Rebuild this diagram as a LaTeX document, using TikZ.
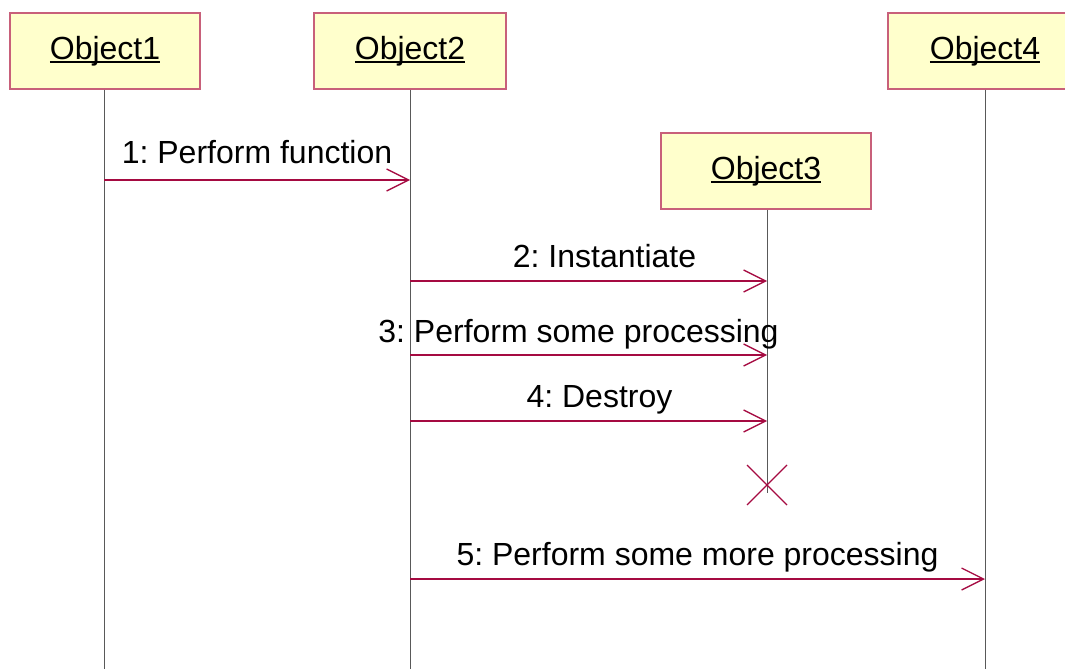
\documentclass[tikz,border=0pt]{standalone}
\usepackage{fontspec}
\setmainfont{Liberation Sans}
\frenchspacing
\usetikzlibrary{arrows.meta}
\definecolor{boxfill}{RGB}{255,255,204}
\definecolor{boxline}{RGB}{200,96,122}
\definecolor{msgline}{RGB}{165,10,65}
\newcommand{\objname}[1]{\setbox0\hbox{#1}\rlap{\rule[-3.5pt]{\wd0}{1.8pt}}\box0}
\tikzset{
    object/.style={rectangle, draw=boxline, fill=boxfill, line width=1.4pt, minimum height=76pt, inner sep=0pt, font=\fontsize{32}{36}\selectfont},
    lifeline/.style={draw=black!65, line width=0.8pt},
    msg/.style={draw=msgline, line width=1.3pt, -{Straight Barb[length=22pt, width=22pt, line width=1.3pt]}},
    msglabel/.style={anchor=base, yshift=14pt, font=\fontsize{32}{36}\selectfont},
    destroy/.style={draw=msgline, line width=1.2pt}
}
\begin{document}
\begin{tikzpicture}[x=1pt, y=-1pt]
    \useasboundingbox (0,0) rectangle (1065,669);
    \node[object, minimum width=190pt] (obj1) at (105,51) {\objname{Object1}};
    \node[object, minimum width=192pt] (obj2) at (410,51) {\objname{Object2}};
    \node[object, minimum width=210pt] (obj3) at (766,171) {\objname{Object3}};
    \node[object, minimum width=194pt] (obj4) at (985,51) {\objname{Object4}};

    \coordinate (end1) at (104,669);
    \coordinate (end2) at (410,669);
    \coordinate (end3) at (767,493);
    \coordinate (end4) at (985,669);
    \draw[lifeline] (obj1.south -| end1) -- (end1);
    \draw[lifeline] (obj2.south -| end2) -- (end2);
    \draw[lifeline] (obj3.south -| end3) -- (end3);
    \draw[lifeline] (obj4.south -| end4) -- (end4);

    \coordinate (m1a) at (104,180);
    \coordinate (m1b) at (410,180);
    \coordinate (m2a) at (410,281);
    \coordinate (m2b) at (767,281);
    \coordinate (m3a) at (410,355);
    \coordinate (m3b) at (767,355);
    \coordinate (m4a) at (410,421);
    \coordinate (m4b) at (767,421);
    \coordinate (m5a) at (410,579);
    \coordinate (m5b) at (985,579);

    \draw[msg] (m1a) -- node[msglabel, yshift=3pt] {1: Perform function} (m1b);
    \draw[msg] (m2a) -- node[msglabel, xshift=16pt] {2: Instantiate} (m2b);
    \draw[msg] (m3a) -- node[msglabel, xshift=-10pt, yshift=-1pt] {3: Perform some processing} (m3b);
    \draw[msg] (m4a) -- node[msglabel, xshift=11pt] {4: Destroy} (m4b);
    \draw[msg] (m5a) -- node[msglabel] {5: Perform some more processing} (m5b);

    \coordinate (x3) at (767,485);
    \draw[destroy] ([shift={(-20,-20)}]x3) -- ([shift={(20,20)}]x3);
    \draw[destroy] ([shift={(-20,20)}]x3) -- ([shift={(20,-20)}]x3);
\end{tikzpicture}
\end{document}
